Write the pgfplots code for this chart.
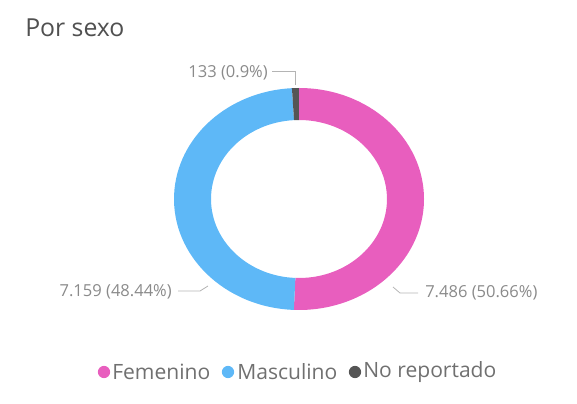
\documentclass[border=0pt]{standalone}
\usepackage{pgfplots}
\usepackage{pgfplotstable}
\pgfplotsset{compat=1.18}
\usetikzlibrary{calc}
\usepackage{fontspec}
\setmainfont{Open Sans}
\definecolor{fem}{HTML}{E85EBE}
\definecolor{mas}{HTML}{5EB8F7}
\definecolor{nor}{HTML}{555555}
\definecolor{titlec}{HTML}{505050}
\definecolor{labc}{HTML}{8A8A8A}
\definecolor{legc}{HTML}{707070}
\definecolor{linec}{HTML}{B4B4B4}
\pgfplotstableread{
sexo valor
Femenino 7486
Masculino 7159
NoReportado 133
}\datos
\begin{document}
\begin{tikzpicture}
\pgfplotstablegetelem{0}{valor}\of\datos \edef\vF{\pgfplotsretval}
\pgfplotstablegetelem{1}{valor}\of\datos \edef\vM{\pgfplotsretval}
\pgfplotstablegetelem{2}{valor}\of\datos \edef\vN{\pgfplotsretval}
\pgfmathsetmacro\tot{\vF+\vM+\vN}
\pgfmathsetmacro\fF{\vF/\tot}
\pgfmathsetmacro\fM{\vM/\tot}
\pgfmathsetmacro\fN{\vN/\tot}
\pgfmathsetmacro\aA{90-360*\fF}
\pgfmathsetmacro\aB{\aA-360*\fM}
\pgfmathsetmacro\aC{\aB-360*\fN}
\begin{axis}[
  width=432.75pt, height=302.25pt, scale only axis,
  xmin=0, xmax=577, ymin=0, ymax=403,
  hide axis, clip=false,
]
\path (axis cs:0,0) rectangle (axis cs:577,403);
% wedges
\fill[fem] (axis cs:299,204) ++(90:93.75pt and 83.25pt) arc[start angle=90,end angle=\aA,x radius=93.75pt,y radius=83.25pt]
  -- ($(axis cs:299,204)+(\aA:66pt and 59.25pt)$) arc[start angle=\aA,end angle=90,x radius=66pt,y radius=59.25pt] -- cycle;
\fill[mas] (axis cs:299,204) ++(\aA:93.75pt and 83.25pt) arc[start angle=\aA,end angle=\aB,x radius=93.75pt,y radius=83.25pt]
  -- ($(axis cs:299,204)+(\aB:66pt and 59.25pt)$) arc[start angle=\aB,end angle=\aA,x radius=66pt,y radius=59.25pt] -- cycle;
\fill[nor] (axis cs:299,204) ++(\aB:93.75pt and 83.25pt) arc[start angle=\aB,end angle=\aC,x radius=93.75pt,y radius=83.25pt]
  -- ($(axis cs:299,204)+(\aC:66pt and 59.25pt)$) arc[start angle=\aC,end angle=\aB,x radius=66pt,y radius=59.25pt] -- cycle;
% title
\node[anchor=base west, text=titlec, font=\fontsize{18.6}{20}\selectfont, inner sep=0pt] at (axis cs:25,366) {Por sexo};
% data labels
\draw[linec, line width=0.6pt] (axis cs:272,332) -- (axis cs:295,332) -- (axis cs:295,318);
\node[anchor=east, text=labc, font=\fontsize{12.4}{14}\selectfont, inner sep=0pt] at (axis cs:268,330) {133 (0.9\%)};
\draw[linec, line width=0.6pt] (axis cs:178,112) -- (axis cs:200,112) -- (axis cs:208,117);
\node[anchor=east, text=labc, font=\fontsize{12.4}{14}\selectfont, inner sep=0pt] at (axis cs:172,111) {7.159 (48.44\%)};
\draw[linec, line width=0.6pt] (axis cs:393,116) -- (axis cs:400,110) -- (axis cs:418,110);
\node[anchor=west, text=labc, font=\fontsize{12.4}{14}\selectfont, inner sep=0pt] at (axis cs:425,110) {7.486 (50.66\%)};
% legend
\fill[fem] (axis cs:104,31) circle[radius=4.6pt];
\fill[mas] (axis cs:228,31) circle[radius=4.6pt];
\fill[nor] (axis cs:355,31) circle[radius=4.6pt];
\node[anchor=west, text=legc, font=\fontsize{15.8}{17}\selectfont, inner sep=0pt] at (axis cs:112,31) {Femenino};
\node[anchor=west, text=legc, font=\fontsize{15.8}{17}\selectfont, inner sep=0pt] at (axis cs:237,31) {Masculino};
\node[anchor=west, text=legc, font=\fontsize{15.8}{17}\selectfont, inner sep=0pt] at (axis cs:363,31) {No reportado};
\end{axis}
\end{tikzpicture}
\end{document}
